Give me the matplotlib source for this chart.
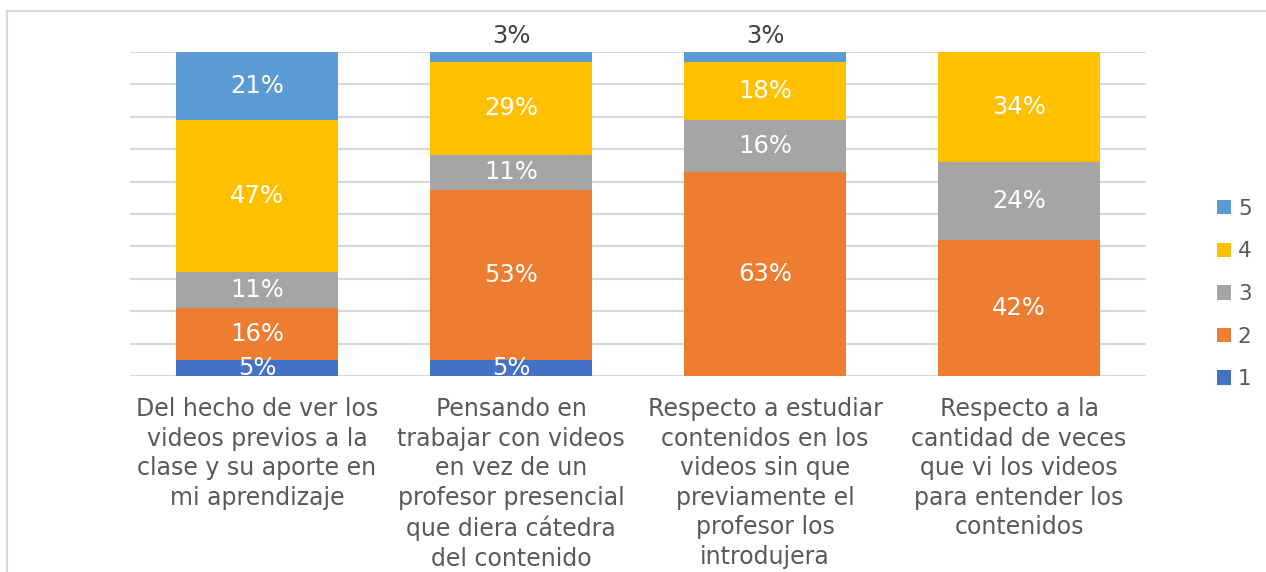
import numpy as np
import matplotlib.pyplot as plt
from matplotlib.lines import Line2D

plt.rcParams['font.family'] = 'DejaVu Sans'

categories = [
    "Del hecho de ver los\nvideos previos a la\nclase y su aporte en\nmi aprendizaje",
    "Pensando en\ntrabajar con videos\nen vez de un\nprofesor presencial\nque diera cátedra\ndel contenido",
    "Respecto a estudiar\ncontenidos en los\nvideos sin que\npreviamente el\nprofesor los\nintrodujera",
    "Respecto a la\ncantidad de veces\nque vi los videos\npara entender los\ncontenidos",
]
series_names = ["1", "2", "3", "4", "5"]
s1 = [5, 5, 0, 0]
s2 = [16, 53, 63, 42]
s3 = [11, 11, 16, 24]
s4 = [47, 29, 18, 34]
s5 = [21, 3, 3, 0]
colors = ["#4472C4", "#ED7D31", "#A5A5A5", "#FFC000", "#5B9BD5"]

data = np.array([s1, s2, s3, s4, s5], dtype=float)
# 100% stacked: normalise each column
heights = data / data.sum(axis=0) * 100

fig = plt.figure(figsize=(12.66, 5.72), dpi=100)
ax = fig.add_axes([130 / 1266, 1 - 376 / 572, 1016 / 1266, 324 / 572])

x = np.arange(len(categories))
bottom = np.zeros(len(categories))
handles = []
for i, name in enumerate(series_names):
    bars = ax.bar(x, heights[i], 0.64, bottom=bottom, color=colors[i],
                  label=name, zorder=3)
    handles.append(bars)
    for j in range(len(categories)):
        v = data[i, j]
        if v == 0:
            continue
        if v <= 3:
            # small segment at top: label above the bar
            ax.annotate(f"{int(v)}%", (x[j], 100), xytext=(0, 3),
                        textcoords='offset points', ha='center', va='bottom',
                        fontsize=17.5, color='#404040', annotation_clip=False)
        else:
            ax.text(x[j], bottom[j] + heights[i, j] / 2, f"{int(v)}%",
                    ha='center', va='center', fontsize=17.5, color='white',
                    clip_on=True, zorder=4)
    bottom += heights[i]

ax.set_xlim(-0.5, len(categories) - 0.5)
ax.set_ylim(0, 100)
ax.set_yticks(np.arange(0, 101, 10))
ax.yaxis.grid(True, color='#D9D9D9', linewidth=1.5, zorder=0)
ax.tick_params(left=False, labelleft=False, bottom=False, labelbottom=False)
for sp in ax.spines.values():
    sp.set_visible(False)

for j, lab in enumerate(categories):
    ax.text(x[j], -6.5, lab, ha='center', va='top', fontsize=17,
            color='#595959', linespacing=1.29, transform=ax.transData,
            clip_on=False)

leg = fig.legend(handles[::-1], series_names[::-1], loc='center left',
                 bbox_to_anchor=(1198 / 1266, 1 - 294 / 572), frameon=False,
                 fontsize=15.5, labelcolor='#595959', handlelength=0.65,
                 handleheight=0.65, handletextpad=0.3, labelspacing=1.05)

# chart area border (left and top edges visible)
fig.add_artist(Line2D([7 / 1266, 7 / 1266], [0, 1 - 11 / 572],
                      color='#D9D9D9', linewidth=1.5))
fig.add_artist(Line2D([7 / 1266, 1], [1 - 11 / 572, 1 - 11 / 572],
                      color='#D9D9D9', linewidth=1.5))

fig.savefig("out.png", dpi=100)
